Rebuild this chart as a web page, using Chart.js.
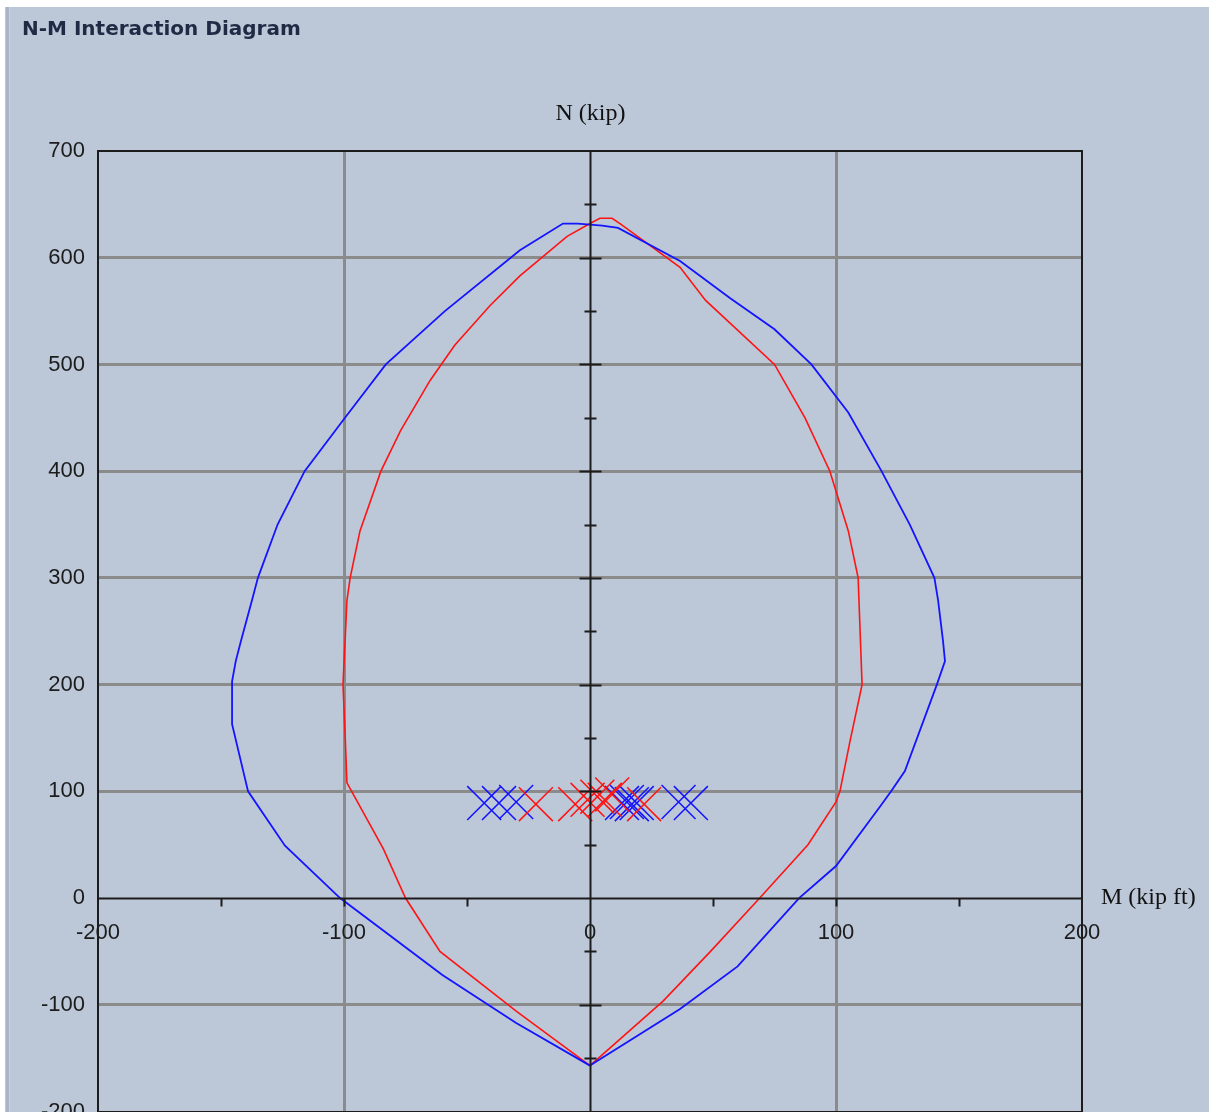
<!DOCTYPE html>
<html>
<head>
<meta charset="utf-8">
<title>N-M Interaction Diagram</title>
<script src="https://cdn.jsdelivr.net/npm/chart.js@4"></script>
<style>
  html, body { margin: 0; padding: 0; background: #fff; overflow: hidden; }
  canvas { display: block; }
</style>
</head>
<body>
<canvas id="nm" width="1209" height="1137"></canvas>
<script>
// interaction curve 1 (blue), M in kip ft, N in kip
const blueM = [0, 36.6, 60, 85, 100, 118, 122.4, 128, 141, 144.3, 143.5, 141.5, 140, 130, 118.5, 105, 90, 75, 57, 36.6, 11.4, 5, -5, -11, -28.5, -59, -83, -99.6, -116, -127, -135, -137.4, -142, -144, -145.5, -145.5, -139, -124, -101.6, -60, -30, 0];
const blueN = [-157, -104, -64, 0, 30, 86, 100, 119, 200, 222, 241, 279, 300, 350, 400, 455, 500, 533, 562, 597, 628, 630, 632, 632, 607, 550, 500, 450, 400, 350, 300, 279, 240, 222, 203, 163, 100, 49, 0, -72, -117, -157];

// interaction curve 2 (red)
const redM = [0, 29.7, 49, 69, 88.6, 100, 101.6, 105.7, 110.6, 109, 105, 97.5, 87.4, 75, 47, 36.6, 12.2, 9, 4, 0, -9.3, -28.5, -40.7, -55, -65, -77, -85, -93.5, -97.5, -98.8, -100.4, -99.5, -98.8, -84, -75, -61, -30, 0];
const redN = [-157, -96.6, -50, 0, 50, 90, 100, 147, 200, 300, 344, 400, 450, 500, 560, 591, 632, 637, 637, 632, 620, 583, 555, 518, 485, 438, 400, 344, 300, 279, 200, 150, 108, 46, 0, -50, -106, -157];

// applied loads
const loadBlueM = [-43, -37, -30, 13, 15, 17, 19, 36, 41];
const loadBlueN = [89, 89, 90, 89, 90, 88, 89, 90, 89];
const loadRedM = [-22, -6, -1, 3, 6, 9, 22];
const loadRedN = [88, 88, 92, 95, 92, 97, 88];

const mTicks = [-200, -100, 0, 100, 200];
const nTicks = [-200, -100, 0, 100, 200, 300, 400, 500, 600, 700];

const pts = (xs, ys) => xs.map((x, i) => ({ x: x, y: ys[i] }));

const GRID = '#8b8b8b';
const INK = '#1c1c1c';

const decor = {
  id: 'decor',
  beforeDraw(chart) {
    const c = chart.ctx;
    c.save();
    c.fillStyle = '#ffffff';
    c.fillRect(0, 0, chart.width, chart.height);
    c.fillStyle = '#bcc7d8';
    c.fillRect(5, 7, chart.width - 5, chart.height - 7);
    c.fillStyle = '#a8b4c7';
    c.fillRect(6, 7, 3, chart.height - 7);
    c.fillStyle = '#c9d3e1';
    c.fillRect(9, 7, 1, chart.height - 7);

    c.fillStyle = '#1f2a44';
    c.font = 'bold 20px "DejaVu Sans"';
    c.textBaseline = 'alphabetic';
    c.textAlign = 'left';
    c.fillText('N-M Interaction Diagram', 22, 35);
    c.restore();
  },
  afterDatasetsDraw(chart) {
    const c = chart.ctx;
    const xs = chart.scales.x, ys = chart.scales.y;
    const a = chart.chartArea;
    const x0 = Math.round(xs.getPixelForValue(0)) + 0.5;
    const y0 = Math.round(ys.getPixelForValue(0)) + 0.5;
    c.save();
    c.strokeStyle = INK;
    c.lineWidth = 2;
    // frame
    c.strokeRect(Math.round(a.left), Math.round(a.top), Math.round(a.right - a.left), Math.round(a.bottom - a.top));
    // centre axes
    c.beginPath();
    c.moveTo(x0, a.top); c.lineTo(x0, a.bottom);
    c.moveTo(a.left, y0); c.lineTo(a.right, y0);
    c.stroke();
    // tick marks on the centre axes
    c.beginPath();
    for (let v = ys.min + 50; v < ys.max; v += 50) {
      if (v === 0) continue;
      const py = Math.round(ys.getPixelForValue(v)) + 0.5;
      const h = v % 100 === 0 ? 11 : 6;
      c.moveTo(x0 - h, py); c.lineTo(x0 + h, py);
    }
    for (let v = xs.min + 50; v < xs.max; v += 50) {
      if (v === 0) continue;
      const px = Math.round(xs.getPixelForValue(v)) + 0.5;
      c.moveTo(px, y0); c.lineTo(px, y0 + 8);
    }
    c.stroke();

    // axis titles
    c.fillStyle = '#111';
    c.font = '24px "Liberation Serif"';
    c.textBaseline = 'middle';
    c.textAlign = 'center';
    c.fillText('N (kip)', x0, 114);
    c.textAlign = 'left';
    c.fillText('M (kip ft)', a.right + 19, y0 - 1);
    c.restore();
  }
};

new Chart(document.getElementById('nm'), {
  type: 'scatter',
  data: {
    datasets: [
      {
        label: 'Curve 1',
        data: pts(blueM, blueN),
        showLine: true,
        borderColor: '#1414ff',
        borderWidth: 1.8,
        pointRadius: 0,
        tension: 0
      },
      {
        label: 'Curve 2',
        data: pts(redM, redN),
        showLine: true,
        borderColor: '#ff1414',
        borderWidth: 1.6,
        pointRadius: 0,
        tension: 0
      },
      {
        label: 'Loads 2',
        data: pts(loadRedM, loadRedN),
        showLine: false,
        pointStyle: 'crossRot',
        pointRadius: 24,
        pointBorderWidth: 1.5,
        pointBorderColor: '#ff1414',
        pointBackgroundColor: '#ff1414'
      },
      {
        label: 'Loads 1',
        data: pts(loadBlueM, loadBlueN),
        showLine: false,
        pointStyle: 'crossRot',
        pointRadius: 24,
        pointBorderWidth: 1.5,
        pointBorderColor: '#1414ff',
        pointBackgroundColor: '#1414ff'
      }
    ]
  },
  options: {
    responsive: false,
    animation: false,
    devicePixelRatio: 1,
    layout: { padding: { left: 0, top: 151, right: 127, bottom: 1.5 } },
    plugins: {
      legend: { display: false },
      title: { display: false },
      tooltip: { enabled: false }
    },
    scales: {
      x: {
        type: 'linear',
        position: { y: 0 },
        min: -200,
        max: 200,
        afterBuildTicks: s => { s.ticks = mTicks.map(v => ({ value: v })); },
        afterFit: s => { s.paddingLeft = 0; s.paddingRight = 0; },
        border: { display: false },
        grid: {
          drawTicks: false,
          lineWidth: 3,
          color: ctx => (Math.abs(ctx.tick.value) === 100 ? GRID : 'rgba(0,0,0,0)')
        },
        ticks: {
          autoSkip: false,
          maxRotation: 0,
          padding: 22,
          color: INK,
          font: { family: '"Liberation Sans"', size: 22 }
        }
      },
      y: {
        type: 'linear',
        position: 'left',
        min: -200,
        max: 700,
        afterBuildTicks: s => { s.ticks = nTicks.map(v => ({ value: v })); },
        afterFit: s => { s.width = 98; s.paddingTop = 0; s.paddingBottom = 0; },
        border: { display: false },
        grid: {
          drawTicks: false,
          lineWidth: 3,
          color: ctx => {
            const v = ctx.tick.value;
            return (v === 0 || v === 700 || v === -200) ? 'rgba(0,0,0,0)' : GRID;
          }
        },
        ticks: {
          autoSkip: false,
          padding: 13,
          color: INK,
          font: { family: '"Liberation Sans"', size: 22 }
        }
      }
    }
  },
  plugins: [decor]
});
</script>
</body>
</html>
